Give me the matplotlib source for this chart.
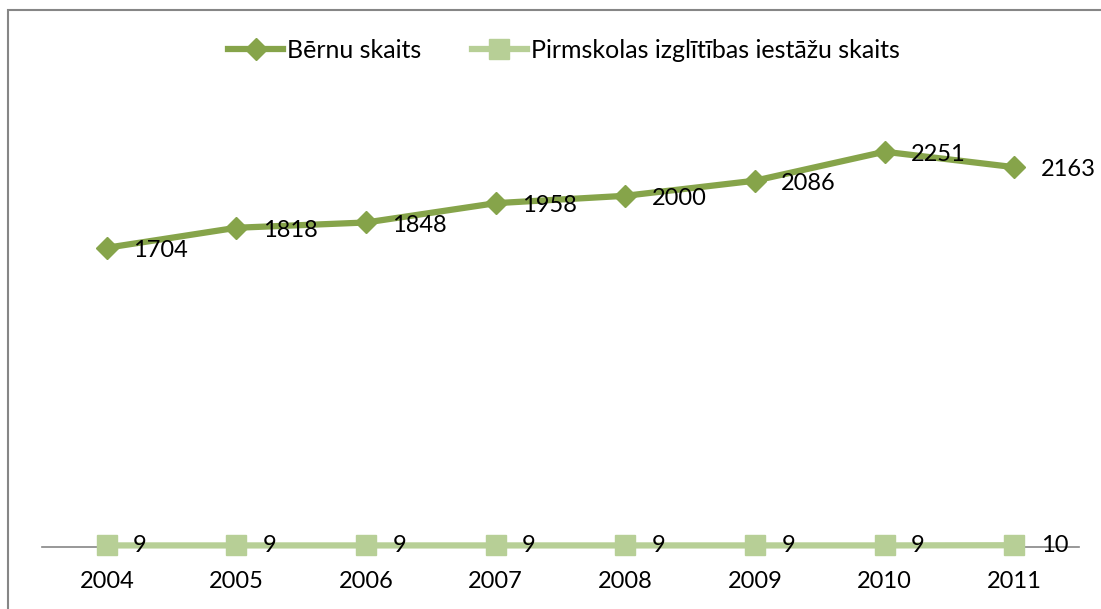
import matplotlib
matplotlib.use("Agg")
import matplotlib.pyplot as plt
from matplotlib.patches import Rectangle
from matplotlib.lines import Line2D

years = ["2004", "2005", "2006", "2007", "2008", "2009", "2010", "2011"]
children = [1704, 1818, 1848, 1958, 2000, 2086, 2251, 2163]
schools = [9, 9, 9, 9, 9, 9, 9, 10]
series_names = ["Bērnu skaits", "Pirmskolas izglītības iestāžu skaits"]

plt.rcParams['font.family'] = ['Lato', 'DejaVu Sans']

W, H = 1101, 609
fig = plt.figure(figsize=(W / 100, H / 100), dpi=100)
ax = fig.add_axes([42 / W, 1 - 547 / H, (1079 - 42) / W, (547 - 108) / H])

c1 = "#86A44A"
c2 = "#B7CF96"
x = list(range(len(years)))
fs = 17

ax.plot(x, children, color=c1, lw=4.5, marker="D", ms=11, mec=c1, mfc=c1, zorder=3,
        clip_on=False)
ax.plot(x, schools, color=c2, lw=4.5, marker="s", ms=14, mec=c2, mfc=c2, zorder=3,
        clip_on=False)

for xi, v in zip(x, children):
    ax.annotate(str(v), (xi, v), xytext=(19, -2), textcoords="offset points",
                ha="left", va="center", fontsize=fs, color="black", zorder=4)
for xi, v in zip(x, schools):
    ax.annotate(str(v), (xi, v), xytext=(19, 0), textcoords="offset points",
                ha="left", va="center", fontsize=fs, color="black", zorder=4)

ax.set_xlim(-0.5, len(years) - 0.5)
ax.set_ylim(0, 2500)
ax.set_xticks(x)
ax.set_xticklabels(years, fontsize=fs)
ax.tick_params(axis="x", length=0, pad=17)
ax.set_yticks([])
for s in ["left", "right", "top"]:
    ax.spines[s].set_visible(False)
ax.spines["bottom"].set_color("#868686")
ax.spines["bottom"].set_linewidth(1.2)
ax.spines["bottom"].set_zorder(1)

handles = [
    Line2D([], [], color=c1, lw=4.5, marker="D", ms=11, mec=c1, mfc=c1),
    Line2D([], [], color=c2, lw=4.5, marker="s", ms=14, mec=c2, mfc=c2),
]
fig.legend(handles, series_names, loc="center", bbox_to_anchor=(564 / W, 1 - 50 / H),
           ncol=2, frameon=False, fontsize=18, handlelength=2.2, columnspacing=2.0,
           handletextpad=0.16, borderpad=0, borderaxespad=0)

fig.patches.append(Rectangle((7.5 / W, -0.1), 1.2, 1 - 9.5 / H + 0.1,
                             transform=fig.transFigure, fill=False,
                             edgecolor="#868686", lw=1.5))

fig.savefig("out.png", dpi=100, facecolor="white")
